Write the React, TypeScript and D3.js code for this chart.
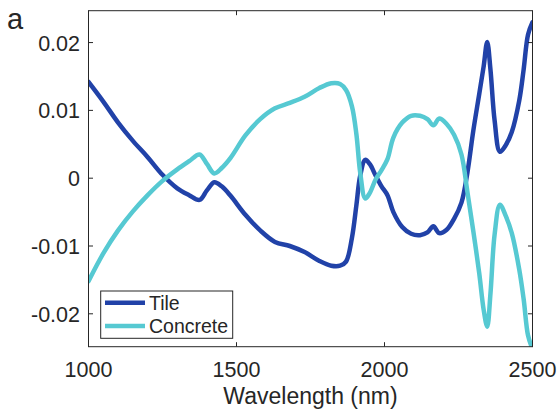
import React from "react";
import * as d3 from "d3";

const wavelengths = [
  1000, 1050, 1100, 1150, 1200, 1250, 1300, 1340, 1375, 1400, 1425, 1450, 1480,
  1530, 1580, 1630, 1680, 1730, 1780, 1820, 1850, 1870, 1890, 1905, 1918, 1935,
  1950, 1970, 1990, 2010, 2030, 2060, 2090, 2120, 2145, 2165, 2185, 2210, 2235,
  2260, 2280, 2300, 2320, 2335, 2347, 2358, 2372, 2390, 2410, 2430, 2455, 2470,
  2485, 2500,
];

const tile = [
  0.0142, 0.0113, 0.0082, 0.0055, 0.0031, 0.0005, -0.0015, -0.0025, -0.0032,
  -0.0018, -0.0006, -0.0012, -0.0026, -0.0054, -0.0077, -0.0094, -0.01, -0.0109,
  -0.0122, -0.0129, -0.0129, -0.0123, -0.0088, -0.004, 0.0004, 0.0027, 0.0021,
  0.0004, -0.0012, -0.0025, -0.005, -0.0072, -0.0082, -0.0084, -0.008, -0.0071,
  -0.0081, -0.0076, -0.006, -0.0036, 0.0008, 0.007, 0.0124, 0.0165, 0.0201,
  0.016, 0.0085, 0.0039, 0.0049, 0.0068, 0.0114, 0.016, 0.0212, 0.023,
];

const concrete = [
  -0.0152, -0.0111, -0.0077, -0.0049, -0.0025, -0.0004, 0.0013, 0.0025, 0.0035,
  0.0021, 0.0007, 0.0015, 0.003, 0.0063, 0.0087, 0.0103, 0.0111, 0.012, 0.0133,
  0.014, 0.0139, 0.013, 0.0106, 0.0065, 0.0008, -0.003, -0.0022, -0.0002,
  0.0012, 0.0028, 0.006, 0.0082, 0.0092, 0.0092, 0.0087, 0.0078, 0.0088, 0.008,
  0.0064, 0.0035, -0.002, -0.0078, -0.014, -0.0194, -0.0219, -0.017, -0.0083,
  -0.0039, -0.0056, -0.0081, -0.0134, -0.0178, -0.0232, -0.0252,
];

const xTicks = [1000, 1500, 2000, 2500];
const yTicks = [-0.02, -0.01, 0, 0.01, 0.02];
const yTickLabels = ["-0.02", "-0.01", "0", "0.01", "0.02"];

const series = [
  { name: "Tile", values: tile, color: "#2142a8" },
  { name: "Concrete", values: concrete, color: "#56c9d2" },
];

const W = 558;
const H = 409;
const left = 88.5;
const right = 532.5;
const top = 10.7;
const bottom = 346.7;
const font = "'Liberation Sans', Arial, Helvetica, sans-serif";
const ink = "#262626";

export default function App() {
  const x = d3.scaleLinear().domain([1000, 2500]).range([left, right]);
  const y = d3.scaleLinear().domain([-0.02485, 0.0247]).range([bottom, top]);
  const line = d3
    .line<number>()
    .x((_, i) => x(wavelengths[i]))
    .y((d) => y(d))
    .curve(d3.curveCatmullRom.alpha(0.5));
  const tl = 4.5;

  return (
    <svg
      width={W}
      height={H}
      style={{ position: "absolute", left: 0, top: 0, background: "#fff" }}
      fontFamily={font}
    >
      <defs>
        <clipPath id="plot">
          <rect x={left} y={top} width={right - left} height={bottom - top} />
        </clipPath>
      </defs>
      <rect x={0} y={0} width={W} height={H} fill="#fff" />
      <g clipPath="url(#plot)">
        {series.map((s) => (
          <path
            key={s.name}
            d={line(s.values) || ""}
            fill="none"
            stroke={s.color}
            strokeWidth={4.5}
            strokeLinejoin="round"
            strokeLinecap="round"
          />
        ))}
      </g>
      <rect
        x={left}
        y={top}
        width={right - left}
        height={bottom - top}
        fill="none"
        stroke={ink}
        strokeWidth={1}
      />
      {xTicks.map((t) => (
        <g key={"x" + t}>
          <line x1={x(t)} x2={x(t)} y1={bottom} y2={bottom - tl} stroke={ink} />
          <line x1={x(t)} x2={x(t)} y1={top} y2={top + tl} stroke={ink} />
          <text x={x(t)} y={377} fontSize={21.5} textAnchor="middle" fill={ink}>
            {t}
          </text>
        </g>
      ))}
      {yTicks.map((t, i) => (
        <g key={"y" + t}>
          <line x1={left} x2={left + tl} y1={y(t)} y2={y(t)} stroke={ink} />
          <line x1={right} x2={right - tl} y1={y(t)} y2={y(t)} stroke={ink} />
          <text x={80} y={y(t) + 8} fontSize={21.5} textAnchor="end" fill={ink}>
            {yTickLabels[i]}
          </text>
        </g>
      ))}
      <text x={(left + right) / 2} y={404} fontSize={23} textAnchor="middle" fill={ink}>
        Wavelength (nm)
      </text>
      <text x={7} y={28.5} fontSize={29} fill={ink}>
        a
      </text>
      <g>
        <rect x={100.7} y={291} width={132} height={47.3} fill="#fff" stroke={ink} strokeWidth={1} />
        {series.map((s, i) => {
          const ly = 302.7 + i * 23.3;
          return (
            <g key={"lg" + s.name}>
              <line x1={105} x2={145} y1={ly} y2={ly} stroke={s.color} strokeWidth={4.5} />
              <text x={149} y={ly + 7} fontSize={19.5} fill={ink}>
                {s.name}
              </text>
            </g>
          );
        })}
      </g>
    </svg>
  );
}
